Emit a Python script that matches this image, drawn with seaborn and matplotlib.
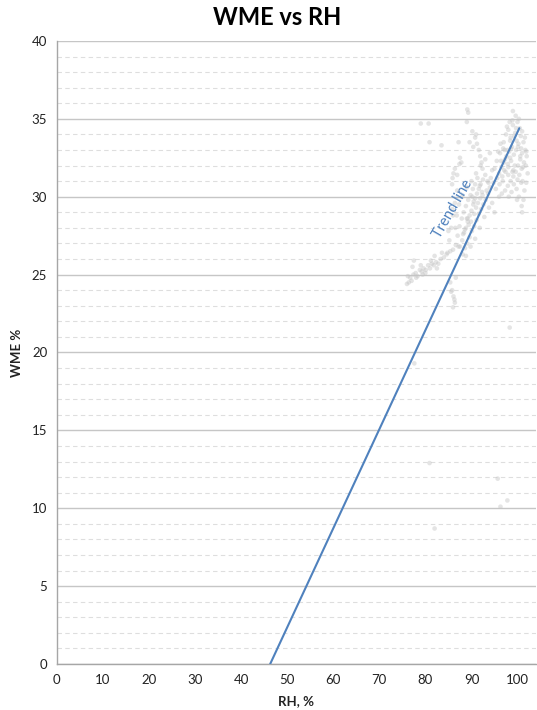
import matplotlib
matplotlib.use("Agg")
import matplotlib.pyplot as plt
from matplotlib.ticker import MultipleLocator
import numpy as np
import pandas as pd
import seaborn as sns

# Hourly readings: relative humidity (%) and wood moisture equivalent (%)
rh = [
    # dense upper-right cluster
    97.0, 97.5, 98.0, 98.5, 99.0, 99.5, 100.0, 100.3, 99.8, 98.8, 98.2, 97.6, 97.0, 96.5,
    96.0, 95.6, 96.8, 97.4, 98.0, 98.6, 99.2, 99.7, 100.2, 100.7, 101.0, 101.3, 101.0, 100.6,
    100.1, 99.6, 99.1, 98.5, 97.9, 97.3, 96.6, 96.0, 95.3, 94.8, 95.0, 95.5, 96.2, 96.9,
    97.8, 98.4, 99.4, 100.4, 101.1, 101.5, 101.3, 100.9, 100.3, 99.8, 99.2, 98.7, 98.1,
    101.8, 102.0, 101.7, 102.2, 101.9, 100.8, 99.9, 101.0, 99.0, 100.5, 98.3, 97.2, 96.4,
    99.3, 100.1, 98.9, 97.7, 96.3, 95.8, 100.9, 101.4, 99.6, 98.0, 97.1, 101.6, 100.0, 98.6,
    96.7, 97.9, 99.1, 100.6, 101.2, 98.4, 97.3, 96.1, 99.7, 100.8, 101.9, 98.9,
    # middle band
    87.5, 88.0, 88.4, 88.8, 89.2, 89.6, 90.0, 90.4, 90.8, 91.2, 91.6, 92.0, 92.5, 93.0,
    93.5, 94.0, 93.6, 93.1, 92.6, 92.1, 91.6, 91.1, 90.6, 90.1, 89.6, 89.1, 88.6, 88.1,
    87.0, 87.4, 87.9, 88.3, 88.8, 89.3, 89.8, 90.3, 90.8, 91.3, 86.5, 86.8, 87.3, 88.0,
    89.0, 90.0, 91.0, 92.0, 93.0, 94.0, 94.5, 93.8, 92.8, 91.8, 90.8, 89.8, 88.8, 94.5,
    95.0, 89.4, 90.6, 91.9, 93.3, 94.2, 88.2, 89.0, 90.2, 91.4, 92.3,
    88.6, 89.9, 91.0, 92.4, 93.7, 90.5, 91.8, 89.2,
    # upper streak
    89.3, 89.0, 90.2, 90.8, 91.2, 91.6, 91.9, 92.2, 92.4, 91.0, 89.6, 90.4, 85.9, 86.4,
    87.5, 89.1, 87.2, 87.4, 87.8, 86.1, 86.9, 85.8,
    # left streak
    84.8, 85.2, 85.6, 86.0, 86.4, 86.9, 85.0, 85.9,
    # lower-left band
    76.0, 76.4, 76.7, 77.0, 77.4, 77.9, 78.3, 78.8, 79.2, 79.6, 80.1, 80.6, 81.0, 81.4,
    81.8, 82.3, 82.8, 83.3, 84.0, 84.6, 85.4, 86.0, 86.6, 87.2, 76.2, 77.2, 78.0, 79.0,
    80.0, 81.2, 82.5, 83.6, 77.5, 79.4, 82.0,
    # below the band
    85.4, 85.8, 86.1, 86.4, 86.0, 86.6, 85.6, 86.3,
    # scattered outliers
    79.0, 80.7, 80.9, 83.5, 98.3, 77.6, 80.9, 95.7, 97.8, 96.3, 82.0,
]
wme = [
    33.5, 34.0, 34.3, 33.8, 34.6, 34.1, 34.8, 35.0, 33.6, 33.2, 32.9, 32.6, 32.2, 31.9,
    31.5, 31.2, 31.0, 31.6, 31.9, 32.3, 32.7, 33.0, 33.4, 33.9, 34.2, 33.5, 32.8, 32.4,
    32.0, 31.6, 31.3, 31.0, 30.7, 30.4, 30.2, 30.0, 30.5, 30.9, 31.8, 32.3, 32.8, 33.1,
    33.0, 32.5, 32.0, 31.4, 31.0, 30.4, 29.8, 29.4, 30.0, 30.5, 30.8, 30.3, 30.0,
    32.0, 32.6, 33.0, 31.5, 30.9, 30.9, 29.8, 29.0, 35.5, 34.4, 34.8, 33.0, 32.3,
    33.9, 33.2, 34.9, 34.5, 33.4, 32.9, 31.8, 32.2, 35.2, 31.4, 31.7, 33.8, 31.1, 33.1,
    31.3, 32.1, 31.7, 32.6, 31.9, 33.6, 32.4, 30.8, 34.4, 33.1, 32.9, 31.6,
    26.8, 27.2, 27.7, 28.0, 28.4, 28.8, 29.1, 29.5, 29.9, 30.2, 30.5, 30.8, 31.1, 31.4,
    31.0, 30.6, 30.2, 29.8, 29.5, 29.2, 28.9, 28.5, 28.1, 27.8, 27.4, 27.0, 26.7, 26.3,
    27.5, 28.1, 28.6, 29.0, 29.4, 29.8, 30.1, 30.5, 30.8, 31.2, 28.0, 28.8, 29.5, 30.0,
    30.6, 31.0, 31.5, 32.0, 32.4, 32.8, 31.7, 29.3, 28.7, 28.0, 27.3, 26.8, 26.2, 29.6,
    29.0, 28.2, 28.9, 29.9, 30.4, 31.2, 27.6, 28.6, 30.0, 29.6, 30.3,
    27.9, 28.4, 29.3, 30.1, 30.9, 29.7, 30.7, 28.6,
    35.4, 34.8, 34.2, 33.8, 33.4, 33.0, 32.6, 32.2, 31.8, 34.0, 33.5, 33.2, 31.2, 31.8,
    32.5, 35.6, 33.5, 32.1, 32.2, 31.5, 31.4, 30.8,
    26.4, 27.2, 28.0, 28.8, 29.6, 30.4, 27.8, 29.2,
    24.4, 24.5, 24.8, 24.6, 25.0, 25.1, 24.9, 25.3, 25.2, 25.4, 25.3, 25.6, 25.4, 25.7,
    25.6, 25.8, 25.7, 26.0, 26.1, 26.3, 26.5, 26.6, 26.9, 26.8, 24.9, 25.5, 24.8, 25.6,
    25.1, 25.9, 25.4, 26.4, 25.9, 25.0, 26.2,
    24.5, 24.0, 23.6, 23.2, 22.9, 24.8, 23.9, 23.4,
    34.7, 34.7, 33.5, 33.3, 21.6, 19.3, 12.9, 11.9, 10.5, 10.1, 8.7,
]

# Linear trend fitted to the readings (end points of the drawn segment)
trend_rh = [46.3, 100.4]
trend_wme = [0.0, 34.4]

x_ticks = list(range(0, 101, 10))
y_ticks = list(range(0, 41, 5))

points = pd.DataFrame({"RH": rh, "WME": wme})
trend = pd.DataFrame({"RH": trend_rh, "WME": trend_wme})

sns.set_theme(style="white")
plt.rcParams["font.family"] = ["Lato", "DejaVu Sans"]

fig = plt.figure(figsize=(5.37, 7.10), dpi=100)
ax = fig.add_axes([0.106, 0.0648, 0.892, 0.8775])

sns.scatterplot(data=points, x="RH", y="WME", ax=ax, marker="o", s=11,
                color="#c4c4c4", alpha=0.45, edgecolor="none", zorder=3)
sns.lineplot(data=trend, x="RH", y="WME", ax=ax, color="#4f81bd",
             linewidth=1.5, zorder=4)

ax.text(85.9, 29.2, "Trend line", color="#4f81bd", fontsize=10.5,
        rotation=60, ha="center", va="center", zorder=5)

ax.set_xlim(0, 104)
ax.set_ylim(0, 40)
ax.set_xticks(x_ticks)
ax.set_yticks(y_ticks)
ax.yaxis.set_minor_locator(MultipleLocator(1))

ax.grid(axis="y", which="major", color="#c6c6c6", linewidth=1.0, linestyle="-")
ax.grid(axis="y", which="minor", color="#dedede", linewidth=0.8, linestyle=(0, (4, 3)))
ax.grid(axis="x", visible=False)
ax.set_axisbelow(True)

for side in ("top", "right"):
    ax.spines[side].set_visible(False)
for side in ("left", "bottom"):
    ax.spines[side].set_color("#a6a6a6")
    ax.spines[side].set_linewidth(1.0)

ax.tick_params(axis="both", which="major", direction="out", length=4, width=1,
               color="#a6a6a6", labelsize=9.5, labelcolor="#222222", pad=3)
ax.tick_params(axis="y", which="minor", length=0)

ax.set_xlabel("RH, %", fontsize=9.5, fontweight="bold", color="#222222", labelpad=7)
ax.set_ylabel("WME %", fontsize=9.5, fontweight="bold", color="#222222", labelpad=6)

fig.text(0.516, 0.975, "WME vs RH", ha="center", va="center",
         fontsize=17, fontweight="bold", color="#000000")

fig.savefig("out.png", dpi=100, facecolor="white")
